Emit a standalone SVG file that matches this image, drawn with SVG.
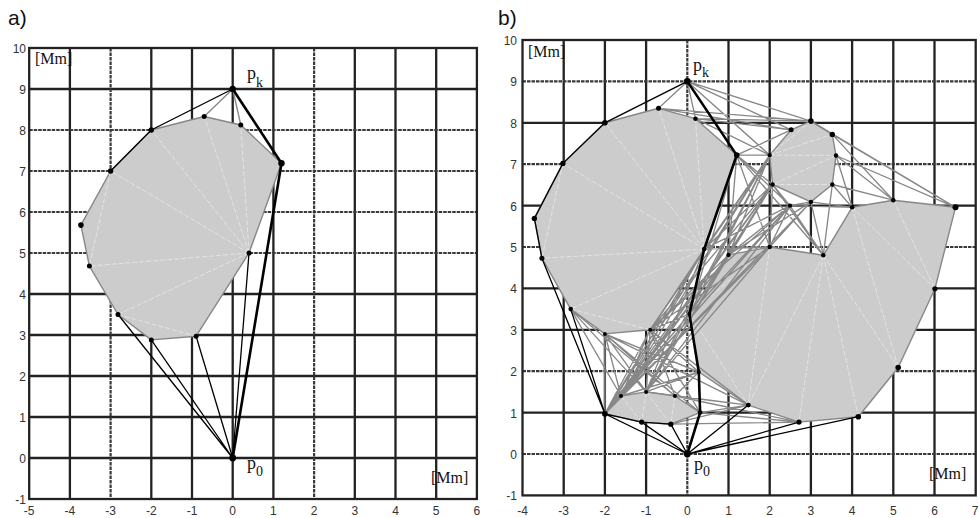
<svg xmlns="http://www.w3.org/2000/svg" width="979" height="518" viewBox="0 0 979 518">
<style>
.bg{fill:#fff}
.frame{fill:none;stroke:#222;stroke-width:2.3}
.g{stroke:#222;stroke-width:2.3;fill:none}
.gd{stroke:#3a3a3a;stroke-width:2.2;stroke-dasharray:3.5 1;fill:none}
.obs{fill:#cccccc;stroke:#878787;stroke-width:1.4;stroke-linejoin:round}
.tri{stroke:#e8e8e8;stroke-width:0.8;stroke-dasharray:5 2;fill:none}
.vg{stroke:#888;stroke-width:1.35;fill:none}
.bk{stroke:#000;stroke-width:1.3;fill:none}
.th{stroke:#000;stroke-width:2.6;fill:none;stroke-linejoin:round}
.pt{fill:#000}
.tick{font-family:"Liberation Sans",Arial,sans-serif;font-size:12px;fill:#333}
.ty{text-anchor:end}
.tx{text-anchor:middle}
.unit{font-family:"Liberation Serif","Times New Roman",serif;font-size:16px;fill:#111}
.pl{font-family:"Liberation Serif","Times New Roman",serif;font-size:18px;fill:#111}
.sub{font-size:14px}
.lbl{font-family:"Liberation Sans",Arial,sans-serif;font-size:21px;fill:#111}
</style>
<rect class="bg" x="0" y="0" width="979" height="518"/>

<g id="panel-a">
  <g id="a-grid">
    <path class="g" d="M69.9 48V499M151.3 48V499M192 48V499M232.7 48V499M273.4 48V499M354.8 48V499M395.5 48V499M436.2 48V499M29.2 89H476.9M29.2 294H476.9M29.2 335H476.9M29.2 376H476.9M29.2 417H476.9M29.2 458H476.9"/>
    <path class="gd" d="M110.6 48V499M314.1 48V499M29.2 130H476.9M29.2 171H476.9M29.2 212H476.9M29.2 253H476.9"/>
    <rect class="frame" x="29.2" y="48" width="447.7" height="451"/>
  </g>
  <g id="a-obstacle">
    <polygon class="obs" points="151.3,130 204.2,116.5 240.8,125 281.5,163.2 249,253 196.1,336.2 151.3,339.9 118,314.5 89.4,266.1 80.9,225.1 110.6,171"/>
    <path class="tri" d="M249 253L110.6 171M249 253L151.3 130M249 253L204.2 116.5M249 253L240.8 125M249 253L89.4 266.1M110.6 171L89.4 266.1M249 253L118 314.5M118 314.5L196.1 336.2"/>
  </g>
  <g id="a-connectors">
    <path class="vg" d="M232.7 89L204.2 116.5M232.7 89L240.8 125"/>
    <path class="bk" d="M232.7 89L151.3 130L110.6 171M232.7 458L249 253M232.7 458L196.1 336.2M232.7 458L151.3 339.9M232.7 458L118 314.5"/>
    <path class="th" d="M232.7 89L281.5 163.2L232.7 458"/>
  </g>
  <g id="a-points">
    <circle class="pt" cx="151.3" cy="130" r="2.7"/>
    <circle class="pt" cx="204.2" cy="116.5" r="2.5"/>
    <circle class="pt" cx="240.8" cy="125" r="2.5"/>
    <circle class="pt" cx="281.5" cy="163.2" r="3.2"/>
    <circle class="pt" cx="249" cy="253" r="2.5"/>
    <circle class="pt" cx="196.1" cy="336.2" r="2.5"/>
    <circle class="pt" cx="151.3" cy="339.9" r="2.5"/>
    <circle class="pt" cx="118" cy="314.5" r="2.5"/>
    <circle class="pt" cx="89.4" cy="266.1" r="2.5"/>
    <circle class="pt" cx="80.9" cy="225.1" r="2.8"/>
    <circle class="pt" cx="110.6" cy="171" r="2.7"/>
    <circle class="pt" cx="232.7" cy="89" r="3.2"/>
    <circle class="pt" cx="232.7" cy="458" r="3.4"/>
  </g>
  <g id="a-labels">
    <text class="lbl" x="8" y="25">a)</text>
    <text class="unit" x="35" y="64">[Mm]</text>
    <text class="unit" x="431" y="483">[Mm]</text>
    <text class="pl" x="247" y="79">p<tspan class="sub" dy="8">k</tspan></text>
    <text class="pl" x="247" y="469">p<tspan class="sub" dy="7">0</tspan></text>
    <g class="tick ty">
      <text x="26" y="53">10</text><text x="26" y="94">9</text><text x="26" y="135">8</text><text x="26" y="176">7</text>
      <text x="26" y="217">6</text><text x="26" y="258">5</text><text x="26" y="299">4</text><text x="26" y="340">3</text>
      <text x="26" y="381">2</text><text x="26" y="422">1</text><text x="26" y="463">0</text><text x="26" y="504">-1</text>
    </g>
    <g class="tick tx">
      <text x="29.2" y="515">-5</text><text x="69.9" y="515">-4</text><text x="110.6" y="515">-3</text><text x="151.3" y="515">-2</text>
      <text x="192" y="515">-1</text><text x="232.7" y="515">0</text><text x="273.4" y="515">1</text><text x="314.1" y="515">2</text>
      <text x="354.8" y="515">3</text><text x="395.5" y="515">4</text><text x="436.2" y="515">5</text><text x="476.9" y="515">6</text>
    </g>
  </g>
</g>

<g id="panel-b">
  <g id="b-grid">
    <path class="g" d="M563.7 40V495.4M604.9 40V495.4M646.1 40V495.4M728.5 40V495.4M769.7 40V495.4M810.9 40V495.4M852.1 40V495.4M893.3 40V495.4M934.5 40V495.4M522.5 122.8H975.7M522.5 205.6H975.7M522.5 288.4H975.7M522.5 329.8H975.7M522.5 412.6H975.7"/>
    <path class="gd" d="M687.3 40V495.4M522.5 81.4H975.7M522.5 164.2H975.7M522.5 247H975.7M522.5 371.2H975.7M522.5 454H975.7"/>
    <rect class="frame" x="522.5" y="40" width="453.2" height="455.4"/>
  </g>
  <g id="b-obstacles">
    <g id="b-obstacle-left">
      <polygon class="obs" points="604.9,122.8 658.5,108.3 695.5,118.7 736.7,155.1 704.2,249.1 650.2,329.8 604.9,333.9 570.7,309.1 541.9,258.2 534.4,218.4 562.9,163.4"/>
      <path class="tri" d="M704.2 249.1L562.9 163.4M704.2 249.1L604.9 122.8M704.2 249.1L658.5 108.3M704.2 249.1L695.5 118.7M704.2 249.1L541.9 258.2M562.9 163.4L541.9 258.2M704.2 249.1L570.7 309.1M570.7 309.1L650.2 329.8"/>
    </g>
    <g id="b-obstacle-octagon">
      <polygon class="obs" points="810.9,121.1 832.3,134.4 836,155.5 832.3,184.5 810.9,201.9 772.6,184.5 769.7,155.1 791.1,129.8"/>
      <path class="tri" d="M769.7 155.1L810.9 121.1M769.7 155.1L832.3 134.4M769.7 155.1L836 155.5M836 155.5L772.6 184.5M772.6 184.5L832.3 184.5"/>
    </g>
    <g id="b-obstacle-right">
      <polygon class="obs" points="689.4,314.1 728.5,254.9 769.7,247 823.3,255.3 852.1,207.3 893.3,200.2 955.5,207.3 934.9,288.8 898.2,367.5 858.3,416.7 799,422.1 748.3,405.1 698.8,372"/>
      <path class="tri" d="M689.4 314.1L769.7 247M689.4 314.1L748.3 405.1M769.7 247L748.3 405.1M823.3 255.3L748.3 405.1M823.3 255.3L799 422.1M823.3 255.3L858.3 416.7M823.3 255.3L898.2 367.5M852.1 207.3L898.2 367.5M852.1 207.3L934.9 288.8M893.3 200.2L934.9 288.8"/>
    </g>
    <g id="b-obstacle-small">
      <polygon class="obs" points="604.9,413.8 621,396 646.1,391.9 674.9,396 700.1,412.6 670.8,424.2 641.6,422.1"/>
      <path class="tri" d="M621 396L641.6 422.1M646.1 391.9L641.6 422.1M646.1 391.9L670.8 424.2M674.9 396L670.8 424.2"/>
    </g>
  </g>
  <g id="b-connectors">
    <path class="vg" d="M687.3 81.4L658.5 108.3M687.3 81.4L695.5 118.7M687.3 81.4L791.1 129.8M687.3 81.4L810.9 121.1M687.3 81.4L769.7 155.1M658.5 108.3L810.9 121.1M658.5 108.3L791.1 129.8M695.5 118.7L810.9 121.1M695.5 118.7L791.1 129.8M695.5 118.7L769.7 155.1M736.7 155.1L791.1 129.8M736.7 155.1L769.7 155.1M736.7 155.1L772.6 184.5M736.7 155.1L789.9 205.6M736.7 155.1L823.3 255.3M736.7 155.1L769.7 247M736.7 155.1L728.5 254.9M810.9 121.1L955.5 207.3M832.3 134.4L955.5 207.3M832.3 134.4L893.3 200.2M836 155.5L955.5 207.3M836 155.5L893.3 200.2M832.3 184.5L893.3 200.2M832.3 184.5L852.1 207.3M836 155.5L852.1 207.3M832.3 184.5L823.3 255.3M810.9 201.9L852.1 207.3M810.9 201.9L823.3 255.3M789.9 205.6L810.9 201.9M789.9 205.6L772.6 184.5M789.9 205.6L823.3 255.3M789.9 205.6L852.1 207.3M789.9 205.6L769.7 247M772.6 184.5L769.7 247M772.6 184.5L823.3 255.3M810.9 201.9L769.7 247M728.5 254.9L772.6 184.5M728.5 254.9L769.7 155.1M728.5 254.9L789.9 205.6M728.5 254.9L810.9 201.9M704.2 249.1L772.6 184.5M704.2 249.1L769.7 155.1M704.2 249.1L789.9 205.6M704.2 249.1L769.7 247M689.4 314.1L736.7 155.1M689.4 314.1L769.7 155.1M689.4 314.1L772.6 184.5M689.4 314.1L789.9 205.6M604.9 413.8L704.2 249.1M604.9 413.8L728.5 254.9M604.9 413.8L769.7 247M604.9 413.8L789.9 205.6M604.9 413.8L772.6 184.5M604.9 413.8L769.7 155.1M604.9 413.8L810.9 201.9M621 396L704.2 249.1M621 396L728.5 254.9M621 396L769.7 247M621 396L789.9 205.6M621 396L772.6 184.5M621 396L769.7 155.1M646.1 391.9L704.2 249.1M646.1 391.9L728.5 254.9M646.1 391.9L769.7 247M646.1 391.9L772.6 184.5M646.1 391.9L769.7 155.1M646.1 391.9L789.9 205.6M650.2 329.8L728.5 254.9M650.2 329.8L769.7 247M650.2 329.8L789.9 205.6M650.2 329.8L772.6 184.5M650.2 329.8L769.7 155.1M650.2 329.8L689.4 314.1M650.2 329.8L621 396M650.2 329.8L646.1 391.9M650.2 329.8L674.9 396M650.2 329.8L700.1 412.6M650.2 329.8L698.8 372M650.2 329.8L748.3 405.1M604.9 333.9L604.9 413.8M604.9 333.9L621 396M604.9 333.9L646.1 391.9M604.9 333.9L674.9 396M604.9 333.9L700.1 412.6M604.9 333.9L698.8 372M604.9 333.9L748.3 405.1M570.7 309.1L621 396M570.7 309.1L646.1 391.9M570.7 309.1L674.9 396M604.9 413.8L650.2 329.8M604.9 413.8L689.4 314.1M621 396L689.4 314.1M621 396L698.8 372M646.1 391.9L689.4 314.1M646.1 391.9L698.8 372M674.9 396L698.8 372M674.9 396L748.3 405.1M700.1 412.6L748.3 405.1M670.8 424.2L799 422.1M700.1 412.6L799 422.1M646.1 391.9L748.3 405.1M674.9 396L799 422.1M670.8 424.2L748.3 405.1"/>
    <path class="bk" d="M687.3 81.4L604.9 122.8L562.9 163.4L534.4 218.4L541.9 258.2L604.9 413.8L687.3 454M604.9 413.8L641.6 422.1L670.8 424.2L687.3 454M641.6 422.1L687.3 454M687.3 454L748.3 405.1M687.3 454L799 422.1M687.3 454L858.3 416.7M570.7 309.1L604.9 413.8"/>
    <path class="th" d="M687.3 81.4L736.7 155.1L704.2 249.1L689.4 314.1L698.8 372L700.1 412.6L687.3 454"/>
  </g>
  <g id="b-points">
    <circle class="pt" cx="687.3" cy="81.4" r="3.3"/>
    <circle class="pt" cx="687.3" cy="454" r="3.4"/>
    <circle class="pt" cx="604.9" cy="122.8" r="2.8"/>
    <circle class="pt" cx="658.5" cy="108.3" r="2.5"/>
    <circle class="pt" cx="695.5" cy="118.7" r="2.3"/>
    <circle class="pt" cx="736.7" cy="155.1" r="2.8"/>
    <circle class="pt" cx="704.2" cy="249.1" r="2.3"/>
    <circle class="pt" cx="650.2" cy="329.8" r="2"/>
    <circle class="pt" cx="604.9" cy="333.9" r="2"/>
    <circle class="pt" cx="570.7" cy="309.1" r="2.3"/>
    <circle class="pt" cx="541.9" cy="258.2" r="2.5"/>
    <circle class="pt" cx="534.4" cy="218.4" r="2.7"/>
    <circle class="pt" cx="562.9" cy="163.4" r="2.7"/>
    <circle class="pt" cx="810.9" cy="121.1" r="2.8"/>
    <circle class="pt" cx="832.3" cy="134.4" r="2.7"/>
    <circle class="pt" cx="836" cy="155.5" r="2.2"/>
    <circle class="pt" cx="832.3" cy="184.5" r="2.2"/>
    <circle class="pt" cx="810.9" cy="201.9" r="2.2"/>
    <circle class="pt" cx="772.6" cy="184.5" r="2.2"/>
    <circle class="pt" cx="769.7" cy="155.1" r="2.2"/>
    <circle class="pt" cx="791.1" cy="129.8" r="2.5"/>
    <circle class="pt" cx="789.9" cy="205.6" r="2.2"/>
    <circle class="pt" cx="689.4" cy="314.1" r="2"/>
    <circle class="pt" cx="728.5" cy="254.9" r="2.2"/>
    <circle class="pt" cx="769.7" cy="247" r="2.2"/>
    <circle class="pt" cx="823.3" cy="255.3" r="2.2"/>
    <circle class="pt" cx="852.1" cy="207.3" r="2.3"/>
    <circle class="pt" cx="893.3" cy="200.2" r="2.3"/>
    <circle class="pt" cx="955.5" cy="207.3" r="3"/>
    <circle class="pt" cx="934.9" cy="288.8" r="2.6"/>
    <circle class="pt" cx="898.2" cy="367.5" r="2.8"/>
    <circle class="pt" cx="858.3" cy="416.7" r="2.8"/>
    <circle class="pt" cx="799" cy="422.1" r="2.6"/>
    <circle class="pt" cx="748.3" cy="405.1" r="2.4"/>
    <circle class="pt" cx="698.8" cy="372" r="2"/>
    <circle class="pt" cx="604.9" cy="413.8" r="2.9"/>
    <circle class="pt" cx="621" cy="396" r="2"/>
    <circle class="pt" cx="646.1" cy="391.9" r="2"/>
    <circle class="pt" cx="674.9" cy="396" r="2"/>
    <circle class="pt" cx="700.1" cy="412.6" r="2.4"/>
    <circle class="pt" cx="670.8" cy="424.2" r="2.6"/>
    <circle class="pt" cx="641.6" cy="422.1" r="2.6"/>
  </g>
  <g id="b-labels">
    <text class="lbl" x="498" y="25">b)</text>
    <text class="unit" x="528" y="57">[Mm]</text>
    <text class="unit" x="929" y="479">[Mm]</text>
    <text class="pl" x="693" y="71">p<tspan class="sub" dy="6">k</tspan></text>
    <text class="pl" x="694" y="470">p<tspan class="sub" dy="6">0</tspan></text>
    <g class="tick ty">
      <text x="517" y="45">10</text><text x="517" y="86.4">9</text><text x="517" y="127.8">8</text><text x="517" y="169.2">7</text>
      <text x="517" y="210.6">6</text><text x="517" y="252">5</text><text x="517" y="293.4">4</text><text x="517" y="334.8">3</text>
      <text x="517" y="376.2">2</text><text x="517" y="417.6">1</text><text x="517" y="459">0</text><text x="517" y="500.4">-1</text>
    </g>
    <g class="tick tx">
      <text x="522.5" y="515">-4</text><text x="563.7" y="515">-3</text><text x="604.9" y="515">-2</text><text x="646.1" y="515">-1</text>
      <text x="687.3" y="515">0</text><text x="728.5" y="515">1</text><text x="769.7" y="515">2</text><text x="810.9" y="515">3</text>
      <text x="852.1" y="515">4</text><text x="893.3" y="515">5</text><text x="934.5" y="515">6</text><text x="975" y="515">7</text>
    </g>
  </g>
</g>
</svg>
